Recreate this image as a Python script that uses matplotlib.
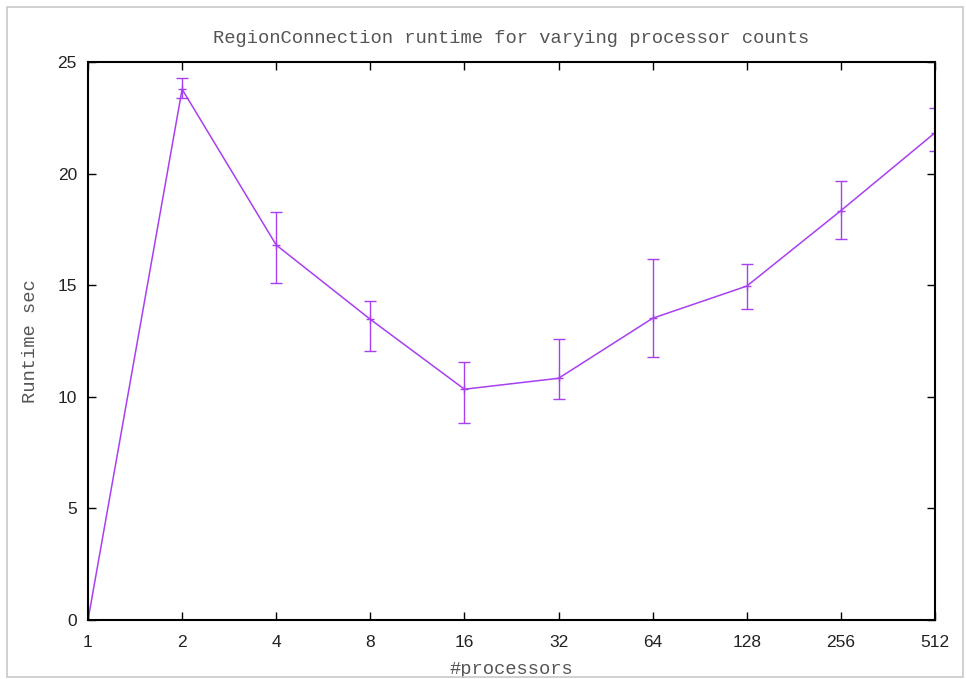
import numpy as np
import matplotlib.pyplot as plt
from matplotlib.patches import Rectangle

# processor counts and measured runtimes (sec) with min/max spread
procs = [1, 2, 4, 8, 16, 32, 64, 128, 256, 512]
runtime = [0.0, 23.78, 16.8, 13.47, 10.34, 10.83, 13.52, 14.96, 18.34, 21.83]
err_low = [0.0, 23.4, 15.1, 12.07, 8.81, 9.89, 11.8, 13.92, 17.06, 21.03]
err_high = [0.0, 24.27, 18.28, 14.28, 11.56, 12.6, 16.19, 15.96, 19.68, 22.95]

y_ticks = [0, 5, 10, 15, 20, 25]

runtime = np.array(runtime)
yerr = np.vstack([runtime - np.array(err_low), np.array(err_high) - runtime])

color = "#a83ff0"

fig = plt.figure(figsize=(9.66, 6.79), dpi=100)
ax = fig.add_axes([88 / 966, 59 / 679, 847 / 966, 558 / 679])

ax.errorbar(procs, runtime, yerr=yerr, color=color, linewidth=1.1,
            elinewidth=1.0, capsize=4, capthick=1.0,
            marker="+", markersize=6, markeredgewidth=1.0)

ax.set_xscale("log", base=2)
ax.set_xlim(1, 512)
ax.set_ylim(0, 25)
ax.set_xticks(procs)
ax.set_xticklabels([str(p) for p in procs])
ax.minorticks_off()
ax.set_yticks(y_ticks)

ax.tick_params(direction="in", length=6, width=1, top=True, right=True,
               labelsize=12.5, colors="black")
ax.tick_params(axis="x", pad=11)
ax.tick_params(axis="y", pad=8)
for lbl in ax.get_xticklabels() + ax.get_yticklabels():
    lbl.set_fontfamily("Liberation Sans")
    lbl.set_color("#222222")
for s in ax.spines.values():
    s.set_linewidth(1.5)

mono = "Liberation Mono"
ax.set_title("RegionConnection runtime for varying processor counts",
             fontfamily=mono, fontsize=13.5, color="#555555", pad=14)
ax.set_xlabel("#processors", fontfamily=mono, fontsize=13.5,
              color="#555555", labelpad=8)
ax.set_ylabel("Runtime sec", fontfamily=mono, fontsize=13.5,
              color="#555555", labelpad=13)

# thin frame around the whole image
fig.patches.append(Rectangle((7 / 966, 2 / 679), 956 / 966, 670 / 679,
                             transform=fig.transFigure, fill=False,
                             edgecolor="#c8c8c8", linewidth=1.2))

fig.savefig("out.png", dpi=100, facecolor="white")
